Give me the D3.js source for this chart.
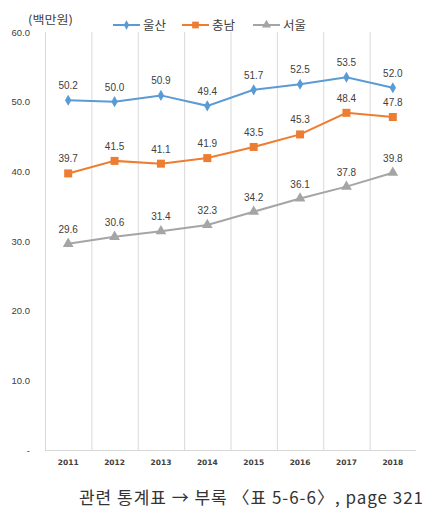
<!DOCTYPE html>
<html><head><meta charset="utf-8">
<script src="https://cdn.jsdelivr.net/npm/d3@7"></script>
<style>body{margin:0;background:#fff;}svg{display:block;}</style>
</head><body>
<script>
const years = ["2011","2012","2013","2014","2015","2016","2017","2018"];
const ulsan = [50.2,50.0,50.9,49.4,51.7,52.5,53.5,52.0];
const chungnam = [39.7,41.5,41.1,41.9,43.5,45.3,48.4,47.8];
const seoul = [29.6,30.6,31.4,32.3,34.2,36.1,37.8,39.8];
const yTicks = [0,10,20,30,40,50,60];
const seriesNames = ["울산","충남","서울"];

const W=443,H=518;
const svg=d3.select("body").append("svg").attr("width",W).attr("height",H);
const x=d3.scaleBand().domain(years).range([45,416]);
const y=d3.scaleLinear().domain([0,60]).range([450,32]);
const font="'Noto Sans CJK KR','Noto Sans',sans-serif";

// vertical gridlines
svg.append("g").selectAll("line").data(years).join("line")
 .attr("x1",d=>x(d)+0.5).attr("x2",d=>x(d)+0.5).attr("y1",y(60)).attr("y2",y(0))
 .attr("stroke","#d9d9d9").attr("stroke-width",1);
// x axis line
svg.append("line").attr("x1",45).attr("x2",416).attr("y1",y(0)+0.5).attr("y2",y(0)+0.5)
 .attr("stroke","#d9d9d9");

// y tick labels
svg.append("g").selectAll("text").data(yTicks).join("text")
 .attr("x",30).attr("y",d=>y(d)+3.5).attr("text-anchor","end")
 .attr("font-family","'Liberation Sans',Arial,sans-serif").attr("font-size",9.5).attr("fill","#404040")
 .text(d=>d===0?"-":d.toFixed(1));

// x labels
svg.append("g").selectAll("text").data(years).join("text")
 .attr("x",d=>x(d)+x.bandwidth()/2).attr("y",465).attr("text-anchor","middle")
 .attr("font-family","'DejaVu Sans',sans-serif").attr("font-weight","bold").attr("font-size",7.5).attr("fill","#404040")
 .text(d=>d);

const series=[
 {name:seriesNames[0],vals:ulsan,color:"#5B9BD5",sym:d3.symbolDiamond,size:36},
 {name:seriesNames[1],vals:chungnam,color:"#ED7D31",sym:d3.symbolSquare,size:64},
 {name:seriesNames[2],vals:seoul,color:"#A5A5A5",sym:d3.symbolTriangle,size:50}
];
const cx=d=>x(d)+x.bandwidth()/2;
const line=d3.line().x((d,i)=>cx(years[i])).y(d=>y(d));
series.forEach(s=>{
 svg.append("path").attr("d",line(s.vals)).attr("fill","none").attr("stroke",s.color).attr("stroke-width",2);
 svg.append("g").selectAll("path").data(s.vals).join("path")
  .attr("transform",(d,i)=>`translate(${cx(years[i])},${y(d)})`)
  .attr("d",d3.symbol().type(s.sym).size(s.size)).attr("fill",s.color);
 svg.append("g").selectAll("text").data(s.vals).join("text")
  .attr("x",(d,i)=>cx(years[i])).attr("y",d=>y(d)-11).attr("text-anchor","middle")
  .attr("font-family","'Liberation Sans',Arial,sans-serif").attr("font-size",10).attr("fill","#404040")
  .text(d=>d.toFixed(1));
});

// unit label
svg.append("text").attr("x",28).attr("y",24).attr("font-family",font).attr("font-size",11.5).attr("fill","#404040")
 .attr("textLength",45).attr("lengthAdjust","spacingAndGlyphs").text("(백만원)");

// legend
const lx=[113,182,253];
series.forEach((s,i)=>{
 const g=svg.append("g").attr("transform",`translate(${lx[i]},25)`);
 g.append("line").attr("x1",0).attr("x2",27).attr("stroke",s.color).attr("stroke-width",2);
 g.append("path").attr("transform","translate(13.5,0)").attr("d",d3.symbol().type(s.sym).size(s.size*0.7)).attr("fill",s.color);
 g.append("text").attr("x",30).attr("y",4.5).attr("font-family",font).attr("font-size",12.5).attr("fill","#404040").text(s.name);
});

// footer
svg.append("text").attr("x",79).attr("y",504)
 .attr("font-family",font).attr("font-size",17).attr("fill","#333")
 .attr("textLength",344).attr("lengthAdjust","spacing").text("관련 통계표 → 부록 〈표 5-6-6〉, page 321");
</script>
</body></html>
